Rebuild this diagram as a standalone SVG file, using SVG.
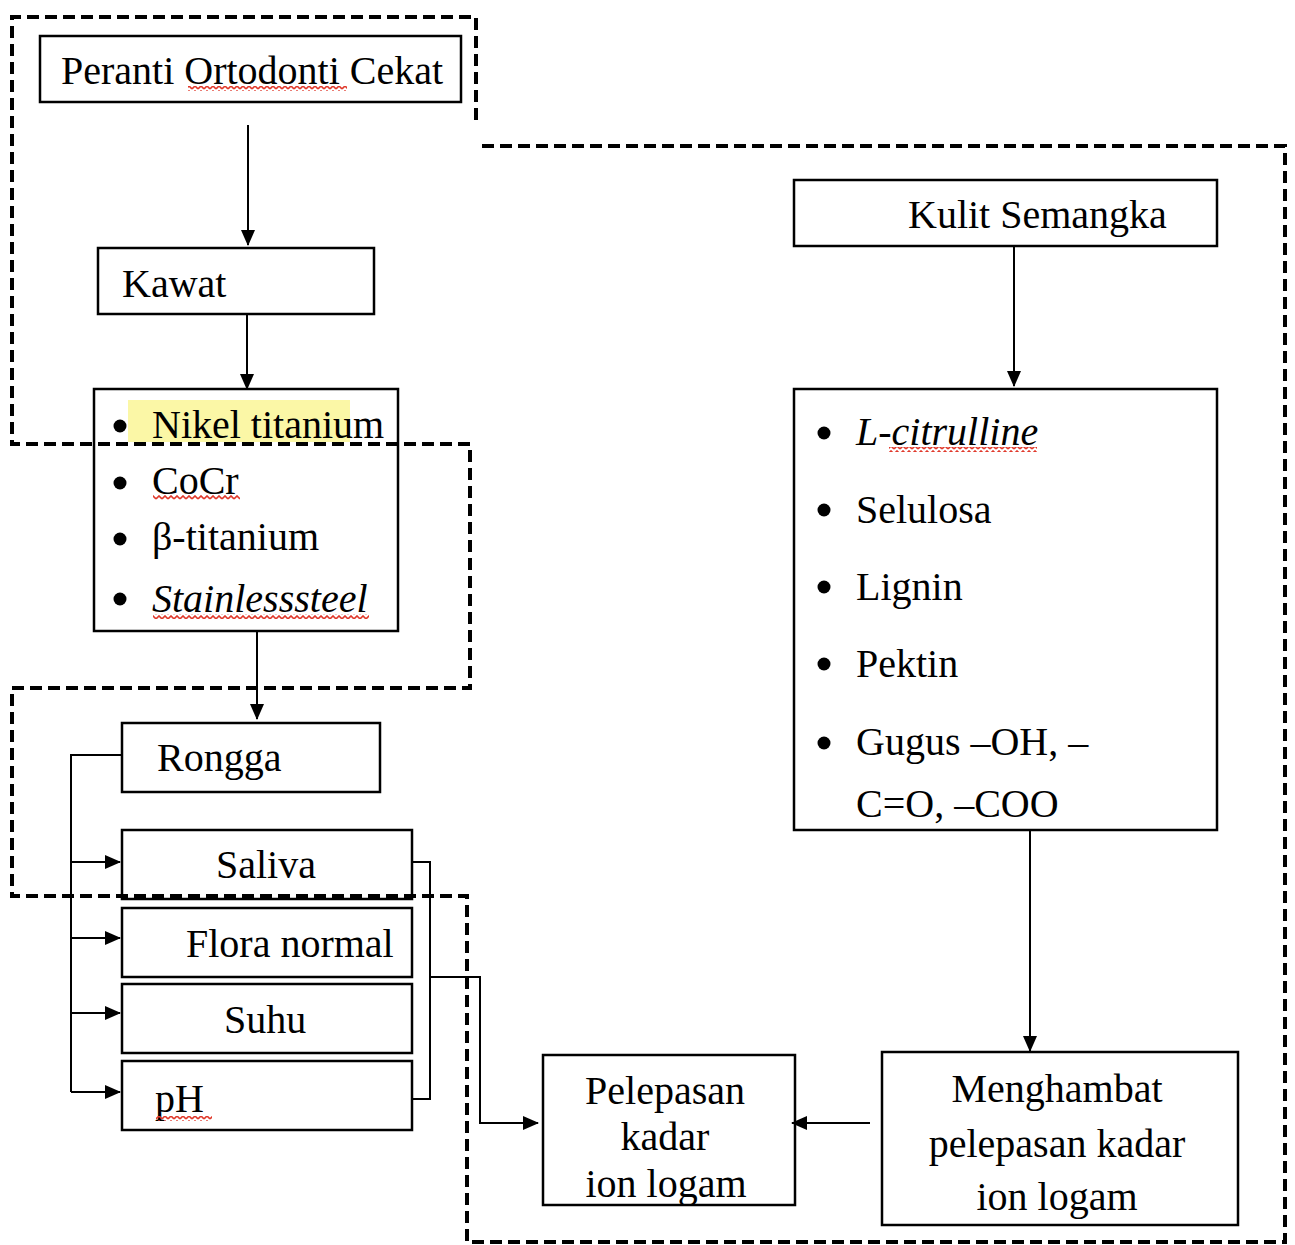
<svg xmlns="http://www.w3.org/2000/svg" width="1295" height="1245" viewBox="0 0 1295 1245">
<style>
.box{fill:none;stroke:#000;stroke-width:2.5}
.t{font-family:"Liberation Serif","Times New Roman",serif;font-size:40px;fill:#000}
.it{font-style:italic}
.c{text-anchor:middle}
.con{fill:none;stroke:#000;stroke-width:2}
.dash{fill:none;stroke:#000;stroke-width:4;stroke-dasharray:12 6}
.sq{fill:url(#wavy)}
</style>
<defs>
<marker id="ah" markerUnits="userSpaceOnUse" markerWidth="16" markerHeight="14" refX="15" refY="7" orient="auto">
<path d="M0,0 L16,7 L0,14 Z" fill="#000"/>
</marker>
<pattern id="wavy" patternUnits="userSpaceOnUse" width="6" height="5">
<polyline points="0,4 3,1 6,4" fill="none" stroke="#e0392b" stroke-width="1.6"/>
</pattern>
</defs>
<rect width="1295" height="1245" fill="#fff"/>

<g id="dashed-regions">
<path class="dash" d="M476,120 V17 H12 V444 H470 V688 H12 V896 H467 V1242 H1285 V146 H479"/>
</g>

<g id="connectors">
<line class="con" x1="248" y1="125" x2="248" y2="245" marker-end="url(#ah)"/>
<line class="con" x1="247" y1="314" x2="247" y2="389" marker-end="url(#ah)"/>
<line class="con" x1="257" y1="631" x2="257" y2="719" marker-end="url(#ah)"/>
<polyline class="con" points="122,755 71,755 71,1092"/>
<line class="con" x1="71" y1="862" x2="120" y2="862" marker-end="url(#ah)"/>
<line class="con" x1="71" y1="938" x2="120" y2="938" marker-end="url(#ah)"/>
<line class="con" x1="71" y1="1013" x2="120" y2="1013" marker-end="url(#ah)"/>
<line class="con" x1="71" y1="1092" x2="120" y2="1092" marker-end="url(#ah)"/>
<polyline class="con" points="412,862 430,862 430,1099 412,1099"/>
<polyline class="con" points="430,977 480,977 480,1123 538,1123" marker-end="url(#ah)"/>
<line class="con" x1="1014" y1="246" x2="1014" y2="386" marker-end="url(#ah)"/>
<line class="con" x1="1030" y1="830" x2="1030" y2="1051" marker-end="url(#ah)"/>
<line class="con" x1="870" y1="1123" x2="792" y2="1123" marker-end="url(#ah)"/>
</g>

<g id="peranti">
<rect class="box" x="40" y="36" width="421" height="66"/>
<text class="t" x="61" y="84">Peranti Ortodonti Cekat</text>
<rect class="sq" x="188" y="86" width="159" height="5"/>
</g>

<g id="kawat">
<rect class="box" x="98" y="248" width="276" height="66"/>
<text class="t" x="122" y="297">Kawat</text>
</g>

<g id="jenis-kawat">
<rect x="128" y="400" width="222" height="42" fill="#fbf7a6"/>
<rect class="box" x="94" y="389" width="304" height="242"/>
<circle cx="120" cy="426" r="6.5"/>
<circle cx="120" cy="483" r="6.5"/>
<circle cx="120" cy="539" r="6.5"/>
<circle cx="120" cy="599" r="6.5"/>
<text class="t" x="152" y="438">Nikel titanium</text>
<text class="t" x="152" y="494">CoCr</text>
<rect class="sq" x="153" y="495" width="87" height="5"/>
<text class="t" x="152" y="550">β-titanium</text>
<text class="t it" x="152" y="612">Stainlesssteel</text>
<rect class="sq" x="153" y="614" width="216" height="5"/>
</g>

<g id="rongga">
<rect class="box" x="122" y="723" width="258" height="69"/>
<text class="t" x="157" y="771">Rongga</text>
</g>

<g id="saliva">
<rect class="box" x="122" y="830" width="290" height="69"/>
<text class="t" x="216" y="878">Saliva</text>
</g>

<g id="flora">
<rect class="box" x="122" y="908" width="290" height="69"/>
<text class="t" x="186" y="957">Flora normal</text>
</g>

<g id="suhu">
<rect class="box" x="122" y="984" width="290" height="69"/>
<text class="t" x="224" y="1033">Suhu</text>
</g>

<g id="ph">
<rect class="box" x="122" y="1061" width="290" height="69"/>
<text class="t" x="155" y="1112">pH</text>
<rect class="sq" x="156" y="1116" width="56" height="5"/>
</g>

<g id="kulit">
<rect class="box" x="794" y="180" width="423" height="66"/>
<text class="t" x="908" y="228">Kulit Semangka</text>
</g>

<g id="kandungan">
<rect class="box" x="794" y="389" width="423" height="441"/>
<circle cx="824" cy="433" r="6.5"/>
<circle cx="824" cy="510" r="6.5"/>
<circle cx="824" cy="587" r="6.5"/>
<circle cx="824" cy="664" r="6.5"/>
<circle cx="824" cy="743" r="6.5"/>
<text class="t" x="856" y="445"><tspan class="it">L-citrulline</tspan></text>
<rect class="sq" x="889" y="447" width="148" height="5"/>
<text class="t" x="856" y="523">Selulosa</text>
<text class="t" x="856" y="600">Lignin</text>
<text class="t" x="856" y="677">Pektin</text>
<text class="t" x="856" y="755">Gugus –OH, –</text>
<text class="t" x="856" y="817">C=O, –COO</text>
</g>

<g id="pelepasan">
<rect class="box" x="543" y="1055" width="252" height="150"/>
<text class="t c" x="665" y="1104">Pelepasan</text>
<text class="t c" x="665" y="1150">kadar</text>
<text class="t c" x="666" y="1197">ion logam</text>
</g>

<g id="menghambat">
<rect class="box" x="882" y="1052" width="356" height="173"/>
<text class="t c" x="1057" y="1102">Menghambat</text>
<text class="t c" x="1057" y="1157">pelepasan kadar</text>
<text class="t c" x="1057" y="1210">ion logam</text>
</g>
</svg>
